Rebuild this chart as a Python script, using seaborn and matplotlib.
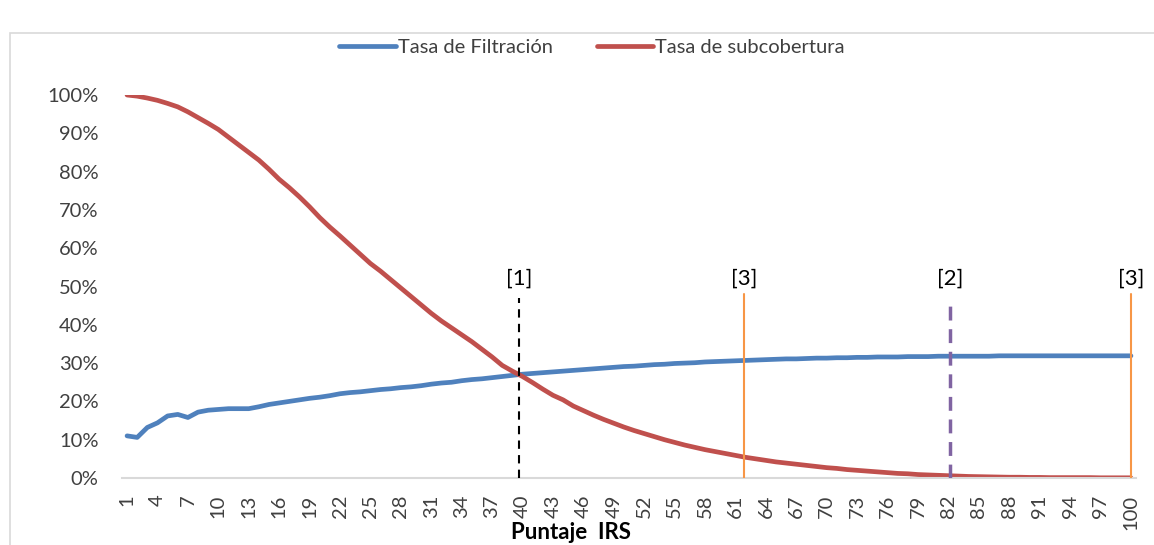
import numpy as np
import pandas as pd
import matplotlib
matplotlib.use("Agg")
import matplotlib.pyplot as plt
import seaborn as sns
from matplotlib.ticker import PercentFormatter
from matplotlib.patches import Rectangle

# Data (values in %)
puntaje = list(range(1, 101))

tasa_filtracion = [
    11.0, 10.6, 13.2, 14.4, 16.2, 16.6, 15.8, 17.2, 17.7, 17.9,
    18.1, 18.1, 18.1, 18.6, 19.2, 19.6, 20.0, 20.4, 20.8, 21.1,
    21.5, 22.0, 22.3, 22.5, 22.8, 23.1, 23.3, 23.6, 23.8, 24.1,
    24.5, 24.8, 25.0, 25.4, 25.7, 25.9, 26.2, 26.5, 26.8, 27.1,
    27.3, 27.5, 27.7, 27.9, 28.1, 28.3, 28.5, 28.7, 28.9, 29.1,
    29.2, 29.4, 29.6, 29.7, 29.9, 30.0, 30.1, 30.3, 30.4, 30.5,
    30.6, 30.7, 30.8, 30.9, 31.0, 31.1, 31.1, 31.2, 31.3, 31.3,
    31.4, 31.4, 31.5, 31.5, 31.6, 31.6, 31.6, 31.7, 31.7, 31.7,
    31.8, 31.8, 31.8, 31.8, 31.8, 31.8, 31.9, 31.9, 31.9, 31.9,
    31.9, 31.9, 31.9, 31.9, 31.9, 31.9, 31.9, 31.9, 31.9, 31.9,
]

tasa_subcobertura = [
    100.0, 99.7, 99.2, 98.6, 97.8, 96.9, 95.6, 94.1, 92.6, 91.0,
    89.0, 87.0, 85.0, 83.0, 80.6, 78.0, 75.8, 73.4, 70.8, 68.0,
    65.5, 63.2, 60.8, 58.4, 56.0, 54.0, 51.8, 49.6, 47.4, 45.2,
    43.0, 41.0, 39.2, 37.4, 35.6, 33.6, 31.6, 29.4, 27.9, 26.5,
    24.9, 23.2, 21.6, 20.4, 18.8, 17.6, 16.4, 15.3, 14.3, 13.3,
    12.4, 11.6, 10.8, 10.0, 9.3, 8.6, 8.0, 7.4, 6.9, 6.4,
    5.9, 5.4, 5.0, 4.6, 4.2, 3.9, 3.6, 3.3, 3.0, 2.7,
    2.5, 2.2, 2.0, 1.8, 1.6, 1.4, 1.2, 1.1, 0.9, 0.8,
    0.7, 0.6, 0.5, 0.4, 0.35, 0.3, 0.25, 0.2, 0.2, 0.15,
    0.15, 0.1, 0.1, 0.1, 0.1, 0.1, 0.05, 0.05, 0.05, 0.05,
]

# reference lines: position, label, top (%)
ref_pos = [39.7, 61.85, 82.2, 100]
ref_labels = ["[1]", "[3]", "[2]", "[3]"]
ref_top = [47, 48, 45, 48]

series_names = ["Tasa de Filtración", "Tasa de subcobertura"]

df = pd.DataFrame({
    "puntaje": puntaje * 2,
    "valor": [v / 100 for v in tasa_filtracion] + [v / 100 for v in tasa_subcobertura],
    "serie": [series_names[0]] * len(puntaje) + [series_names[1]] * len(puntaje),
})

sns.set_theme(style="white")
plt.rcParams["font.family"] = ["Lato", "DejaVu Sans"]

fig = plt.figure(figsize=(11.54, 5.45), dpi=100)
ax = fig.add_axes([122 / 1154, 1 - 478 / 545, (1136 - 122) / 1154, (478 - 95) / 545])

# chart area border
fig.patches.append(Rectangle((10 / 1154, -0.1), 1.2, 1 - 33 / 545 + 0.1,
                             transform=fig.transFigure, fill=False,
                             edgecolor="#D9D9D9", linewidth=1.2))

sns.lineplot(data=df, x="puntaje", y="valor", hue="serie",
             palette=["#4F81BD", "#C0504D"], linewidth=3.4, ax=ax,
             solid_capstyle="round")

styles = [
    dict(color="black", linestyle=(0, (4, 3)), linewidth=1.5),
    dict(color="#F79646", linestyle="-", linewidth=1.5),
    dict(color="#8064A2", linestyle=(0, (4, 2.5)), linewidth=2.5),
    dict(color="#F79646", linestyle="-", linewidth=1.5),
]
for x, lab, top, st in zip(ref_pos, ref_labels, ref_top, styles):
    ax.plot([x, x], [0, top / 100], zorder=3, **st)
    ax.text(x, 0.52, lab, ha="center", va="center", fontsize=16, color="black")

ax.set_xlim(0.5, 100.5)
ax.set_ylim(0, 1.0)
ax.set_yticks(np.arange(0, 1.01, 0.1))
ax.yaxis.set_major_formatter(PercentFormatter(1.0, decimals=0))
ax.set_xticks(puntaje[::3])
ax.set_xticklabels([str(p) for p in puntaje[::3]], rotation=90)
ax.tick_params(axis="both", labelsize=14.5, colors="#404040", length=0)
ax.tick_params(axis="y", pad=17)
ax.tick_params(axis="x", pad=12)

for side in ["top", "right", "left"]:
    ax.spines[side].set_visible(False)
ax.spines["bottom"].set_color("#D9D9D9")
ax.spines["bottom"].set_linewidth(1.5)

ax.set_ylabel("")
ax.set_xlabel("Puntaje  IRS", fontsize=16, fontweight="bold", color="black")
ax.xaxis.set_label_coords((571 - 122) / (1136 - 122), -0.115)

handles, labels = ax.get_legend_handles_labels()
ax.legend(handles, labels, ncol=2, frameon=False, fontsize=14.5,
          loc="center", bbox_to_anchor=(592 / 1154, 1 - 47 / 545),
          bbox_transform=fig.transFigure, handlelength=2.8,
          handletextpad=0.1, columnspacing=2.2, labelcolor="#404040")

fig.savefig("out.png", dpi=100)
